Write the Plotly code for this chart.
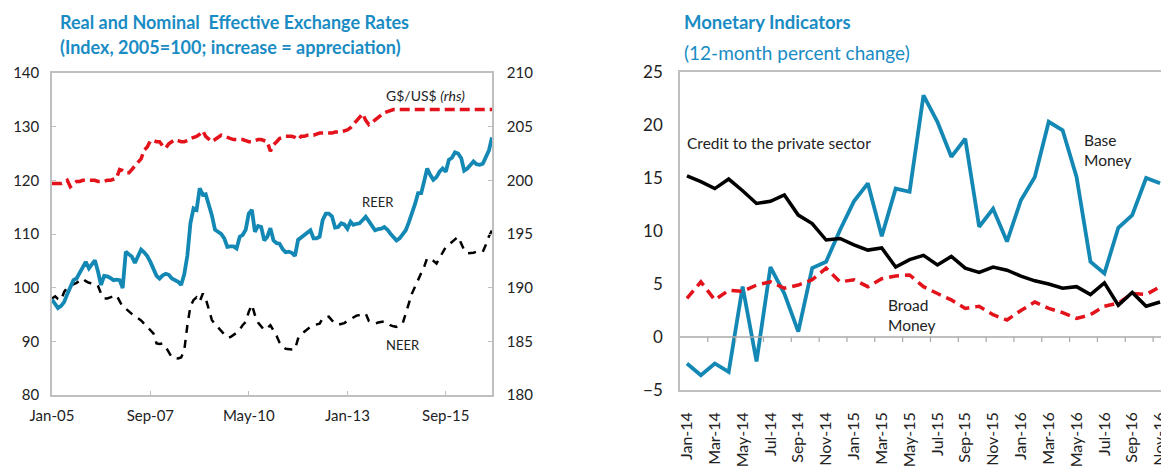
import pandas as pd
import plotly.graph_objects as go

# ---------------- Left chart data (monthly, Jan-05 .. Dec-16) ----------------
months_left = pd.date_range("2005-01-01", periods=144, freq="MS")
left_tick_labels = ["Jan-05", "Sep-07", "May-10", "Jan-13", "Sep-15"]
left_tick_dates = ["2005-01-01", "2007-09-01", "2010-05-01", "2013-01-01", "2015-09-01"]

reer = [97.8, 96.8, 96.2, 96.6, 97.3, 98.8, 100.2, 101.4, 101.7, 102.8,
        104.0, 104.8, 103.6, 104.3, 105.1, 103.0, 100.5, 102.2, 102.1, 101.8,
        101.4, 101.5, 101.4, 99.9, 106.7, 106.2, 105.8, 104.6, 105.8, 107.1,
        106.6, 105.9, 104.8, 103.3, 102.2, 101.7, 102.3, 102.6, 102.4, 101.7,
        101.4, 101.1, 100.5, 102.5, 106.0, 112.0, 114.8, 114.5, 118.5, 117.3,
        117.4, 115.5, 113.5, 110.8, 110.5, 110.0, 109.2, 107.6, 107.7, 107.7,
        107.3, 109.5, 109.8, 110.8, 113.8, 114.5, 110.4, 111.5, 111.3, 108.8,
        109.5, 111.1, 108.8, 108.3, 108.2, 107.2, 106.6, 106.7, 106.5, 105.9,
        108.9, 109.4, 109.8, 110.2, 110.7, 109.2, 109.2, 109.5, 112.6, 113.8,
        113.8, 113.3, 111.2, 111.3, 112.0, 111.8, 111.0, 112.3, 111.7, 111.9,
        112.0, 112.6, 113.2, 112.4, 111.6, 110.7, 110.9, 111.0, 111.3, 110.8,
        110.1, 109.5, 108.8, 109.2, 110.0, 110.7, 112.2, 113.8, 115.6, 117.6,
        117.6, 120.0, 122.2, 121.0, 120.1, 120.6, 121.6, 122.2, 121.6, 123.8,
        124.2, 125.2, 125.0, 124.1, 121.8, 122.2, 122.8, 123.5, 123.0, 122.9,
        123.1, 124.2, 125.6, 128.0]

neer = [98.0, 98.4, 97.9, 97.7, 99.2, 100.0, 100.4, 100.6, 100.9, 101.3,
        101.7, 101.2, 100.9, 100.8, 100.8, 100.3, 98.9, 98.0, 98.0, 98.2,
        98.4, 98.6, 97.5, 96.4, 96.1, 95.6, 95.0, 94.6, 94.3, 93.9,
        93.3, 92.7, 92.1, 91.5, 89.6, 89.5, 89.6, 88.9, 88.0, 87.0,
        86.9, 86.8, 87.0, 88.3, 93.0, 96.5, 97.7, 98.2, 97.4, 98.9,
        98.0, 96.0, 94.0, 93.2, 92.6, 92.0, 91.2, 90.7, 90.8, 91.2,
        91.6, 92.2, 93.0, 93.6, 95.5, 96.8, 94.9, 93.5, 92.7, 92.1,
        92.5, 93.0, 92.0, 91.0, 89.8, 89.0, 88.6, 88.5, 88.5, 88.5,
        90.5, 91.3, 91.8, 92.3, 92.7, 93.0, 93.2, 93.3, 94.3, 94.5,
        94.6, 93.9, 93.3, 93.1, 93.2, 93.4, 93.8, 94.2, 94.5, 94.8,
        94.9, 95.0, 95.2, 93.8, 93.5, 93.3, 93.5, 93.6, 93.7, 93.4,
        93.0, 92.8, 92.7, 93.0, 93.3, 95.2, 97.0, 98.9, 100.2, 101.4,
        102.8, 104.0, 105.5, 105.3, 105.0, 104.5, 105.5, 106.4, 107.6, 108.0,
        108.6, 109.0, 109.5, 108.2, 107.0, 106.4, 106.4, 106.5, 106.7, 106.7,
        106.7, 108.0, 109.6, 110.7]

gd_usd = [199.7, 199.7, 199.7, 199.7, 199.8, 200.0, 199.4, 199.7, 199.9, 199.9,
          200.0, 200.0, 200.0, 200.0, 200.0, 199.9, 199.9, 199.9, 200.0, 200.0,
          200.1, 200.2, 201.0, 200.9, 200.7, 200.7, 201.0, 201.3, 201.6, 202.0,
          202.8, 203.1, 203.7, 203.7, 203.6, 203.6, 203.2, 203.0, 203.4, 203.6,
          203.8, 203.7, 203.6, 203.6, 203.7, 203.9, 204.0, 204.1, 204.3, 204.6,
          204.1, 203.8, 203.6, 203.8, 204.0, 204.2, 204.1, 204.0, 203.9, 203.8,
          203.8, 203.8, 203.8, 203.7, 203.6, 203.6, 203.7, 203.8, 203.8, 203.7,
          203.6, 202.7, 203.3, 203.6, 203.9, 204.0, 204.1, 204.1, 204.1, 204.0,
          203.8, 204.1, 204.1, 204.2, 204.2, 204.2, 204.3, 204.4, 204.4, 204.4,
          204.4, 204.4, 204.5, 204.5, 204.5, 204.6, 204.7, 204.9, 205.2, 205.6,
          205.9, 206.2, 205.6, 205.2, 205.4, 205.6, 205.8, 206.0, 206.3, 206.4,
          206.5, 206.6, 206.6, 206.6, 206.6, 206.6, 206.6, 206.6, 206.6, 206.6,
          206.6, 206.6, 206.6, 206.6, 206.6, 206.6, 206.6, 206.6, 206.6, 206.6,
          206.6, 206.6, 206.6, 206.6, 206.6, 206.6, 206.6, 206.6, 206.6, 206.6,
          206.6, 206.6, 206.6, 206.6]

# ---------------- Right chart data (monthly, Jan-14 .. Nov-16) ----------------
months_right = list(pd.date_range("2014-01-01", periods=35, freq="MS").strftime("%b-%y"))
right_tick_labels = months_right[::2]

base_money = [-2.5, -3.6, -2.5, -3.3, 4.75, -2.3, 6.6, 4.1, 0.5, 6.5,
              7.1, 10.1, 12.8, 14.5, 9.5, 14.0, 13.7, 22.8, 20.3, 17.0,
              18.7, 10.4, 12.1, 9.0, 12.9, 15.1, 20.3, 19.5, 15.1, 7.1,
              6.0, 10.3, 11.5, 15.0, 14.5]
credit_private = [15.2, 14.65, 14.0, 14.9, 13.8, 12.6, 12.8, 13.4, 11.5, 10.7,
                  9.15, 9.3, 8.7, 8.2, 8.4, 6.6, 7.3, 7.7, 6.8, 7.6,
                  6.5, 6.1, 6.6, 6.3, 5.75, 5.3, 5.0, 4.6, 4.75, 4.0,
                  5.1, 3.0, 4.2, 2.9, 3.3]
broad_money = [3.65, 5.2, 3.5, 4.4, 4.3, 4.9, 5.2, 4.6, 4.9, 5.4,
               6.5, 5.2, 5.4, 4.75, 5.5, 5.75, 5.85, 4.75, 4.1, 3.5,
               2.7, 2.9, 2.1, 1.6, 2.5, 3.3, 2.7, 2.3, 1.75, 2.1,
               2.9, 3.2, 4.1, 4.0, 4.75]

# ---------------- Styling ----------------
BLUE = "#1488b4"
TITLE = "#1a8cc4"
RED = "#e3121b"
GRID = "#bfbfbf"
ZERO = "#a8a8a8"
TXT = "#222222"
FONT = "Lato"

# page body has an 8px margin: the figure starts at (8, 8) in the window
OFF = 8
W, H = 1169 - OFF, 470 - OFF
# plot areas in window pixels
L_x0, L_x1, L_y0, L_y1 = 52, 492, 73, 395
R_x0, R_x1, R_y0, R_y1 = 680, 1167, 72, 390


def px(x):
    return (x - OFF) / W


def py(y):
    return 1 - (y - OFF) / H


fig = go.Figure()

# Left chart traces
fig.add_trace(go.Scatter(x=months_left, y=gd_usd, xaxis="x", yaxis="y2", mode="lines",
                         line=dict(color=RED, width=3.5, dash="10px,5px"), hoverinfo="skip"))
fig.add_trace(go.Scatter(x=months_left, y=neer, xaxis="x", yaxis="y", mode="lines",
                         line=dict(color="black", width=2.5, dash="8px,7px"), hoverinfo="skip"))
fig.add_trace(go.Scatter(x=months_left, y=reer, xaxis="x", yaxis="y", mode="lines",
                         line=dict(color=BLUE, width=3.8), hoverinfo="skip"))

# Right chart traces (x2 / y3)
idx = list(range(len(months_right)))
fig.add_trace(go.Scatter(x=idx, y=base_money, xaxis="x2", yaxis="y3", mode="lines",
                         line=dict(color=BLUE, width=3.8), hoverinfo="skip"))
fig.add_trace(go.Scatter(x=idx, y=broad_money, xaxis="x2", yaxis="y3", mode="lines",
                         line=dict(color=RED, width=3.5, dash="10px,6px"), hoverinfo="skip"))
fig.add_trace(go.Scatter(x=idx, y=credit_private, xaxis="x2", yaxis="y3", mode="lines",
                         line=dict(color="black", width=3.5), hoverinfo="skip"))

lx = [px(L_x0), px(L_x1)]
ly = [py(L_y1), py(L_y0)]
rx = [px(R_x0), px(R_x1)]
ry = [py(R_y1), py(R_y0)]

tickfont = dict(family=FONT, size=15, color=TXT)
n_r = len(months_right)
y3_range = [-5, 25]
# 5px tick length expressed in y3 data units
tick_len_units = 5 * (y3_range[1] - y3_range[0]) / (R_y1 - R_y0)

fig.update_layout(
    width=W, height=H,
    margin=dict(l=0, r=0, t=0, b=0, autoexpand=False),
    paper_bgcolor="white", plot_bgcolor="rgba(0,0,0,0)",
    showlegend=False,
    font=dict(family=FONT, color=TXT),
    xaxis=dict(domain=lx, anchor="y", type="date", automargin=False,
               range=["2005-01-01", "2016-12-01"],
               tickvals=left_tick_dates, ticktext=left_tick_labels,
               ticks="inside", ticklen=4, tickcolor=GRID, ticklabelstandoff=6,
               showline=True, linecolor=GRID, linewidth=1.5, mirror=True,
               showgrid=False, zeroline=False, tickfont=tickfont),
    yaxis=dict(domain=ly, anchor="x", range=[80, 140], dtick=10, automargin=False,
               ticks="inside", ticklen=4, tickcolor=GRID, ticklabelstandoff=8,
               showline=True, linecolor=GRID, linewidth=1.5,
               showgrid=False, zeroline=False, tickfont=tickfont),
    yaxis2=dict(overlaying="y", side="right", anchor="x", range=[180, 210], dtick=5,
                automargin=False, ticklabelstandoff=10,
                ticks="inside", ticklen=4, tickcolor=GRID,
                showline=True, linecolor=GRID, linewidth=1.5,
                showgrid=False, zeroline=False, tickfont=tickfont),
    # right chart: labels at bottom
    xaxis2=dict(domain=rx, anchor="y3", automargin=False,
                range=[-0.5, n_r - 0.5],
                tickvals=idx[::2], ticktext=right_tick_labels,
                tickangle=-90, ticks="", ticklabelstandoff=14,
                showline=True, linecolor=GRID, linewidth=1.5,
                mirror=True, showgrid=False, zeroline=False,
                tickfont=dict(family=FONT, size=16, color=TXT)),
    yaxis3=dict(domain=ry, anchor="x2", range=y3_range, dtick=5, automargin=False,
                ticks="", showline=True, linecolor=GRID, linewidth=1.5, mirror=True,
                ticklabelstandoff=12,
                showgrid=False, zeroline=False,
                tickfont=dict(family=FONT, size=17, color=TXT)),
)

# axis line through zero plus tick marks (every two categories, at boundaries)
shapes = [dict(type="line", xref="x2", yref="y3",
               x0=-0.5, x1=n_r - 0.5, y0=0, y1=0,
               line=dict(color=ZERO, width=1.5), layer="above")]
for k in range(1, n_r - 1, 2):
    shapes.append(dict(type="line", xref="x2", yref="y3",
                       x0=k + 0.5, x1=k + 0.5, y0=0, y1=-tick_len_units,
                       line=dict(color=ZERO, width=1.2), layer="above"))
fig.update_layout(shapes=shapes)

ann = []
# Titles
ann.append(dict(text="<b>Real and Nominal  Effective Exchange Rates</b>", x=px(58), y=py(22),
                xref="paper", yref="paper", xanchor="left", yanchor="middle", showarrow=False,
                font=dict(family=FONT, size=18, color=TITLE)))
ann.append(dict(text="<b>(Index, 2005=100; increase = appreciation)</b>", x=px(58), y=py(47),
                xref="paper", yref="paper", xanchor="left", yanchor="middle", showarrow=False,
                font=dict(family=FONT, size=18, color=TITLE)))
ann.append(dict(text="<b>Monetary Indicators</b>", x=px(682), y=py(22),
                xref="paper", yref="paper", xanchor="left", yanchor="middle", showarrow=False,
                font=dict(family=FONT, size=18.5, color=TITLE)))
ann.append(dict(text="(12-month percent change)", x=px(682), y=py(52),
                xref="paper", yref="paper", xanchor="left", yanchor="middle", showarrow=False,
                font=dict(family=FONT, size=19, color=TITLE)))
# Left labels
ann.append(dict(text="G$/US$ <i>(rhs)</i>", x="2015-02-15", y=135.9, xref="x", yref="y",
                showarrow=False, font=dict(family=FONT, size=14, color=TXT)))
ann.append(dict(text="REER", x="2013-11-01", y=115.9, xref="x", yref="y",
                showarrow=False, font=dict(family=FONT, size=13, color=TXT)))
ann.append(dict(text="NEER", x="2014-07-01", y=89.3, xref="x", yref="y",
                showarrow=False, font=dict(family=FONT, size=13, color=TXT)))
# Right labels
ann.append(dict(text="Credit to the private sector", x=-0.15, y=18.3, xref="x2", yref="y3",
                xanchor="left", showarrow=False, font=dict(family=FONT, size=15.5, color=TXT)))
ann.append(dict(text="Base<br>Money", x=28.4, y=17.6, xref="x2", yref="y3",
                xanchor="left", align="left", showarrow=False,
                font=dict(family=FONT, size=15.5, color=TXT)))
ann.append(dict(text="Broad<br>Money", x=14.3, y=2.1, xref="x2", yref="y3",
                xanchor="left", align="left", showarrow=False,
                font=dict(family=FONT, size=15.5, color=TXT)))

fig.update_layout(annotations=ann)
fig.write_html("out.html")
